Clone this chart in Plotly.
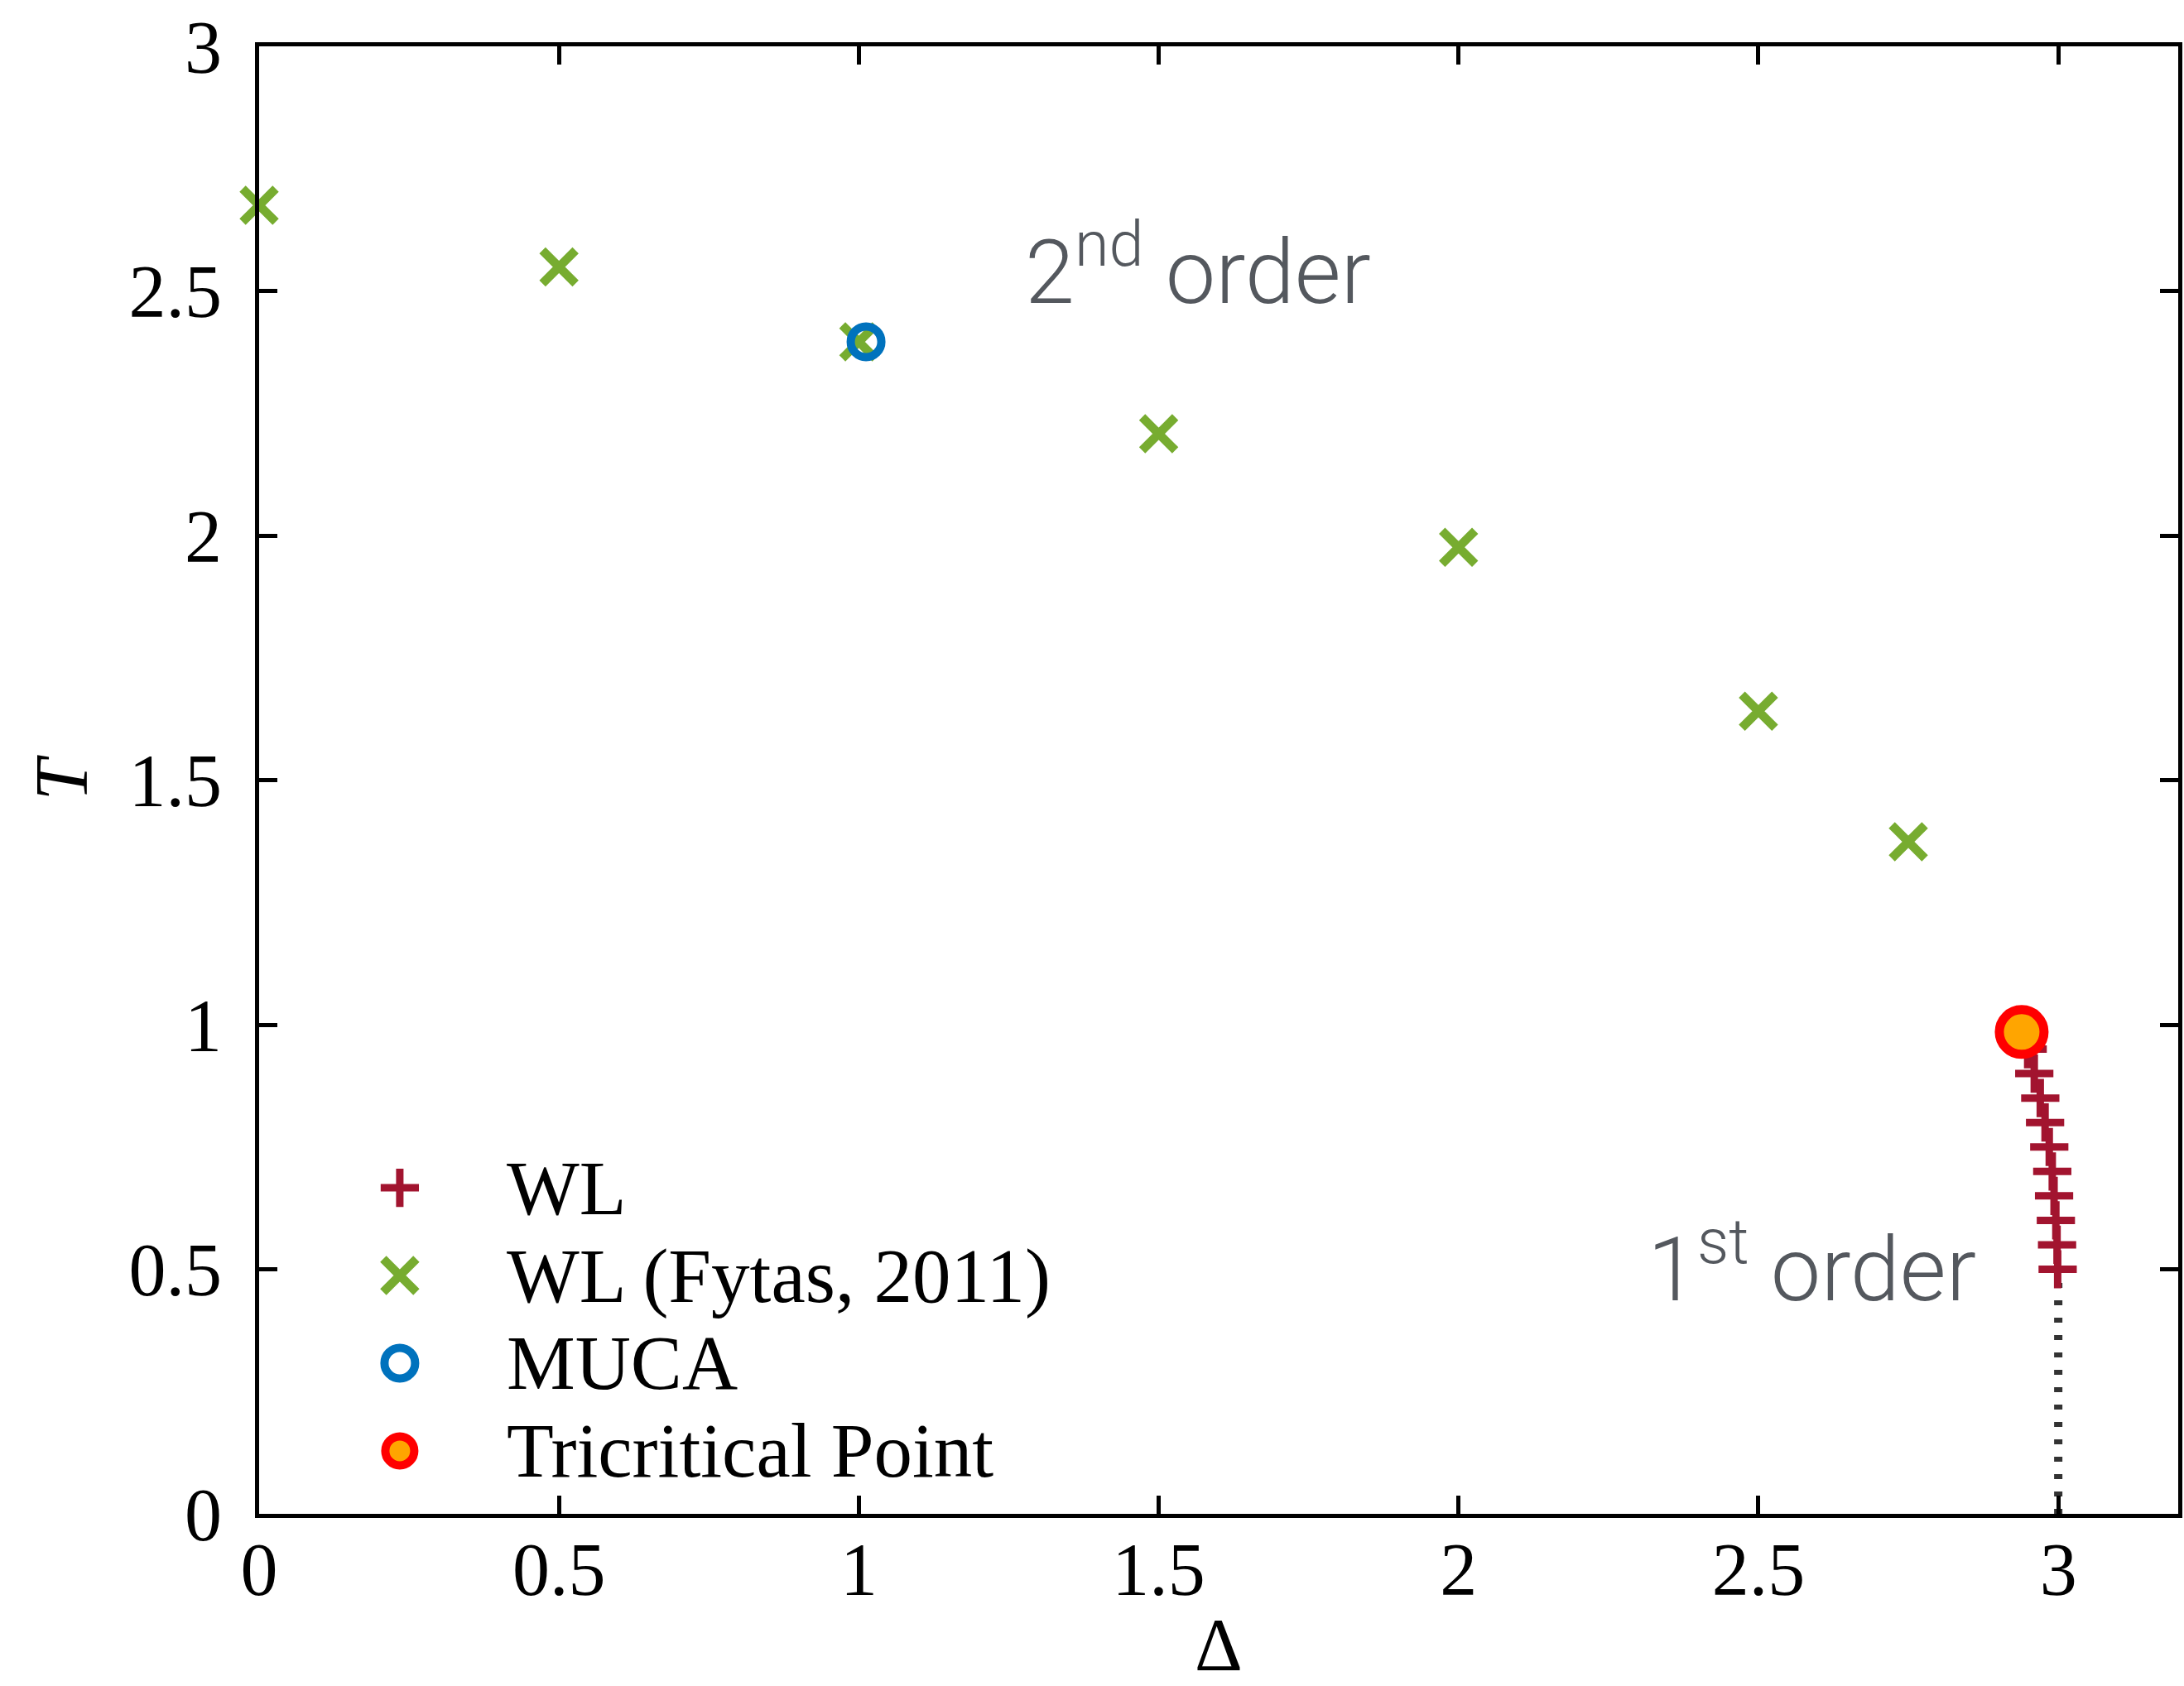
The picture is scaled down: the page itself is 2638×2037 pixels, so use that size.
import plotly.graph_objects as go

# Wang-Landau estimates of the first-order part of the transition line
wl_delta = [2.949, 2.960, 2.970, 2.978, 2.985, 2.990, 2.993, 2.996, 2.998, 2.999]
wl_temp = [0.95, 0.90, 0.85, 0.80, 0.75, 0.70, 0.65, 0.60, 0.55, 0.50]

# Wang-Landau results from Fytas (2011), second-order line
fytas_delta = [0.0, 0.5, 1.0, 1.5, 2.0, 2.5, 2.75]
fytas_temp = [2.675, 2.549, 2.396, 2.208, 1.976, 1.641, 1.374]

# Multicanonical estimate
muca_delta = [1.012]
muca_temp = [2.396]

# Tricritical point
tcp_delta = [2.939]
tcp_temp = [0.985]

# Ground-state end of the first-order line
gs_delta = [3.0, 3.0]
gs_temp = [0.0, 0.5]

legend_labels = ["WL", "WL (Fytas, 2011)", "MUCA", "Tricritical Point"]

WL_RED = "#A2142F"
GREEN = "#77AC30"
BLUE = "#0072BD"
TCP_FILL = "#FFA500"
TCP_EDGE = "#FF0000"
NOTE_GRAY = "#54585E"

SERIF = "Liberation Serif"

fig = go.Figure()

fig.add_trace(go.Scatter(
    x=gs_delta, y=gs_temp, mode="lines",
    line=dict(color="#333333", width=10, dash="6px,15px"),
    showlegend=False, hoverinfo="skip",
))
fig.add_trace(go.Scatter(
    x=wl_delta, y=wl_temp, mode="markers", name=legend_labels[0],
    marker=dict(symbol="cross-thin", size=33, color=WL_RED,
                line=dict(color=WL_RED, width=9)),
    showlegend=False, cliponaxis=False,
))
fig.add_trace(go.Scatter(
    x=fytas_delta, y=fytas_temp, mode="markers", name=legend_labels[1],
    marker=dict(symbol="x-thin", size=40, color=GREEN,
                line=dict(color=GREEN, width=10.5)),
    showlegend=False, cliponaxis=False,
))
fig.add_trace(go.Scatter(
    x=muca_delta, y=muca_temp, mode="markers", name=legend_labels[2],
    marker=dict(symbol="circle-open", size=37, color=BLUE,
                line=dict(color=BLUE, width=10)),
    showlegend=False, cliponaxis=False,
))
fig.add_trace(go.Scatter(
    x=tcp_delta, y=tcp_temp, mode="markers", name=legend_labels[3],
    marker=dict(symbol="circle", size=54, color=TCP_FILL,
                line=dict(color=TCP_EDGE, width=11)),
    showlegend=False, cliponaxis=False,
))

# Key drawn in plot-area fractions on an overlay axis pair
key_x = 0.0733
key_rows = [0.2222, 0.1624, 0.1027, 0.0429]
key_text_x = 0.128
key_markers = [
    dict(symbol="cross-thin", size=33, color=WL_RED, line=dict(color=WL_RED, width=9)),
    dict(symbol="x-thin", size=40, color=GREEN, line=dict(color=GREEN, width=10.5)),
    dict(symbol="circle-open", size=37, color=BLUE, line=dict(color=BLUE, width=10)),
    dict(symbol="circle", size=35, color=TCP_FILL, line=dict(color=TCP_EDGE, width=10)),
]
for label, ky, mk in zip(legend_labels, key_rows, key_markers):
    fig.add_trace(go.Scatter(
        x=[key_x], y=[ky], mode="markers", marker=mk,
        xaxis="x2", yaxis="y2", showlegend=False, hoverinfo="skip",
        cliponaxis=False,
    ))
    fig.add_annotation(
        x=key_text_x, y=ky, xref="paper", yref="paper",
        text=label, showarrow=False, xanchor="left", yanchor="middle",
        font=dict(family=SERIF, size=93, color="black"),
    )

fig.add_annotation(
    x=1.274, y=2.551, xref="x", yref="y",
    text="2<sup>nd</sup> order", showarrow=False, xanchor="left", yanchor="middle",
    font=dict(family="Roboto", size=108, color=NOTE_GRAY, weight=300),
)
fig.add_annotation(
    x=2.313, y=0.512, xref="x", yref="y",
    text="1<sup>st</sup> order", showarrow=False, xanchor="left", yanchor="middle",
    font=dict(family="Roboto", size=108, color=NOTE_GRAY, weight=300),
)

axis_style = dict(
    showline=True, linewidth=5, linecolor="black", mirror="ticks",
    ticks="inside", ticklen=22, tickwidth=5, tickcolor="black",
    showgrid=False, zeroline=False, tick0=0, dtick=0.5, automargin=False,
    tickfont=dict(family=SERIF, size=90, color="black"),
)

fig.update_layout(
    width=2638, height=2037,
    margin=dict(l=313, r=7, t=56, b=208),
    paper_bgcolor="white", plot_bgcolor="white",
    showlegend=False,
    xaxis=dict(range=[0, 3.2], ticklabelstandoff=-15,
               title=dict(text="Δ", font=dict(family=SERIF, size=90, color="black"), standoff=25),
               **axis_style),
    yaxis=dict(range=[0, 3], ticklabelstandoff=22,
               title=dict(text="<i>T</i>", font=dict(family=SERIF, size=90, color="black"), standoff=22),
               **axis_style),
    xaxis2=dict(range=[0, 1], overlaying="x", visible=False, fixedrange=True, automargin=False),
    yaxis2=dict(range=[0, 1], overlaying="y", visible=False, fixedrange=True, automargin=False),
)

fig.write_html("out.html")
